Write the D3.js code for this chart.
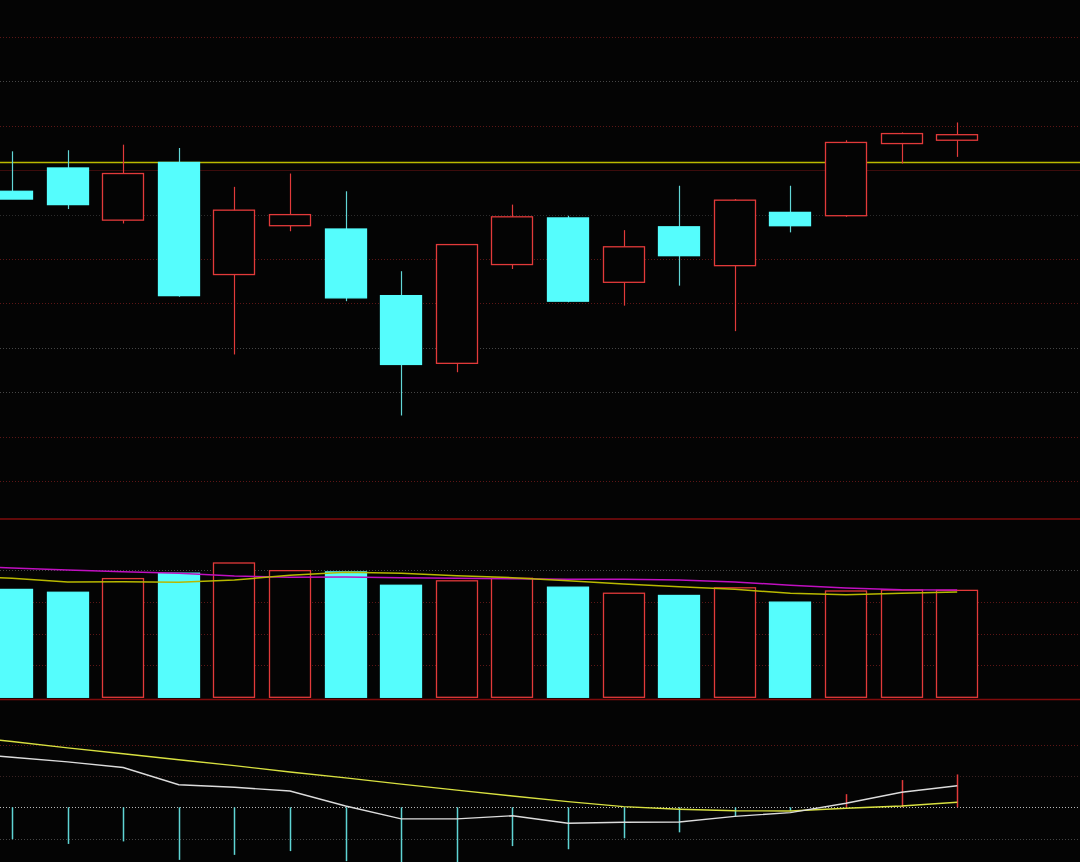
<!DOCTYPE html>
<html>
<head>
<meta charset="utf-8">
<script src="https://cdn.jsdelivr.net/npm/d3@7/dist/d3.min.js"></script>
<style>
html,body{margin:0;padding:0;background:#040404;overflow:hidden;}
svg{display:block;}
</style>
</head>
<body>
<svg id="chart" width="1080" height="862"></svg>
<script>
// ---------- data ----------
const days = d3.range(18);                       // visible trading sessions
const open  = [10.61,10.82,10.35,10.87,9.86,10.30,10.27,9.67,9.06,9.95,10.37,9.79,10.29,9.94,10.42,10.39,11.04,11.07];
const close = [10.54,10.49,10.77,9.67,10.44,10.40,9.65,9.05,10.13,10.38,9.62,10.11,10.03,10.53,10.30,11.05,11.13,11.12];
const high  = [10.97,10.98,11.03,11.00,10.65,10.77,10.61,9.89,10.13,10.49,10.39,10.26,10.66,10.54,10.66,11.07,11.14,11.23];
const low   = [10.54,10.45,10.32,9.66,9.14,10.25,9.62,8.59,8.98,9.91,9.61,9.58,9.76,9.35,10.24,10.38,10.86,10.92];
const refPrice = 10.87;
const priceTicks = [12.0,11.6,11.2,10.8,10.4,10.0,9.6,9.2,8.8,8.4,8.0];
const priceTickTone = ["r","g","r","s","d","r","r","g","g","r","r"];

const volume = [33900,33000,37300,39000,42200,39800,39400,35200,36600,37400,34600,32700,32000,34400,29900,33400,33700,33600];
// moving averages start one session before the first visible candle (index -1)
const volMA5  = [38110,37390,36230,36320,36130,36860,38330,39280,38960,38210,37580,36640,35600,34750,33930,32680,32240,32680,33090];
const volMA10 = [41250,40630,40000,39460,38960,38110,37700,37800,37580,37390,37260,37080,37080,36860,36230,35190,34340,33810,33710];
const volTicks = [40000,30000,20000,10000];
const volTickTone = ["g","r","r","r"];

const dif  = [0.175,0.160,0.145,0.127,0.072,0.064,0.052,0.004,-0.037,-0.037,-0.027,-0.051,-0.048,-0.047,-0.029,-0.017,0.013,0.048,0.069];
const dea  = [0.229,0.210,0.190,0.171,0.152,0.133,0.113,0.094,0.074,0.055,0.036,0.018,0.002,-0.006,-0.011,-0.012,-0.003,0.004,0.016];
const hist = [-0.102,-0.117,-0.109,-0.168,-0.152,-0.140,-0.172,-0.223,-0.184,-0.124,-0.134,-0.099,-0.080,-0.028,-0.012,0.042,0.087,0.105];
const macdTicks = [0.2,0.1,0,-0.1];
const macdTickTone = ["r","d2","w","g"];

// ---------- styles ----------
const C = {
  bg:"#040404", up:"#e23a3a", down:"#55fdfd", downWick:"#62d6d6",
  sep:"#800c0c", ref:"#b9b900", ma5:"#b8b800", ma10:"#c010c0",
  dif:"#dcdcdc", dea:"#d8e040", histDown:"#5fd4d4", histUp:"#e23a3a"
};
const tone = {
  r:{c:"#5c1616",dash:"1,2"},
  g:{c:"#464646",dash:"1,2"},
  d:{c:"#2c2c2c",dash:"1,2"},
  d2:{c:"#3a2222",dash:"1,2"},
  s:{c:"#3c0c0c",dash:null},
  w:{c:"#b8b8b8",dash:"1,2"}
};

const svg = d3.select("#chart");
const W = 1080, H = 862;
svg.append("rect").attr("width",W).attr("height",H).attr("fill",C.bg);

// ---------- scales ----------
const x = d3.scaleLinear().domain([0,17]).range([12,957.2]);
const bodyW = 42;
const yP = d3.scaleLinear().domain([8,12]).range([481,37]);
const yV = d3.scaleLinear().domain([0,40000]).range([697.3,570]);
const yM = d3.scaleLinear().domain([-0.1,0.2]).range([838.6,744.7]);

function grid(ticks, tones, scale){
  svg.append("g").selectAll("line").data(ticks).join("line")
    .attr("x1",0).attr("x2",W)
    .attr("y1",d=>Math.round(scale(d))+0.5).attr("y2",d=>Math.round(scale(d))+0.5)
    .attr("stroke",(d,i)=>tone[tones[i]].c)
    .attr("stroke-width",1)
    .attr("stroke-dasharray",(d,i)=>tone[tones[i]].dash);
}
grid(priceTicks, priceTickTone, yP);
grid(volTicks, volTickTone, yV);
grid(macdTicks, macdTickTone, yM);

// panel separators
svg.append("g").selectAll("line").data([519,699.5]).join("line")
  .attr("x1",0).attr("x2",W).attr("y1",d=>d).attr("y2",d=>d)
  .attr("stroke",C.sep).attr("stroke-width",1.5);

// reference line
svg.append("line").attr("x1",0).attr("x2",W)
  .attr("y1",yP(refPrice)).attr("y2",yP(refPrice))
  .attr("stroke",C.ref).attr("stroke-width",1.5);

// ---------- candles ----------
const candles = days.map(i=>({i,o:open[i],c:close[i],h:high[i],l:low[i],up:close[i]>=open[i]}));
const cg = svg.append("g");
cg.selectAll("line.wick").data(candles).join("line")
  .attr("class","wick")
  .attr("x1",d=>Math.round(x(d.i))+0.5).attr("x2",d=>Math.round(x(d.i))+0.5)
  .attr("y1",d=>yP(d.h)).attr("y2",d=>yP(d.l))
  .attr("stroke",d=>d.up?C.up:C.downWick).attr("stroke-width",1.2);
cg.selectAll("rect.body").data(candles).join("rect")
  .attr("class","body")
  .attr("x",d=>Math.round(x(d.i)-bodyW/2)+0.5)
  .attr("y",d=>yP(Math.max(d.o,d.c)))
  .attr("width",bodyW-1)
  .attr("height",d=>Math.max(1,yP(Math.min(d.o,d.c))-yP(Math.max(d.o,d.c))))
  .attr("fill",d=>d.up?C.bg:C.down)
  .attr("stroke",d=>d.up?C.up:C.down)
  .attr("stroke-width",1.3);

// ---------- volume ----------
const vg = svg.append("g");
vg.selectAll("rect").data(days).join("rect")
  .attr("x",i=>Math.round(x(i)-bodyW/2)+0.5)
  .attr("y",i=>yV(volume[i]))
  .attr("width",bodyW-1)
  .attr("height",i=>yV(0)-yV(volume[i]))
  .attr("fill",i=>candles[i].up?C.bg:C.down)
  .attr("stroke",i=>candles[i].up?C.up:C.down)
  .attr("stroke-width",1.3);

const maIdx = d3.range(-1,18);
const line = (scale, arr) => d3.line().x((d,k)=>x(maIdx[k])).y(d=>scale(d))(arr);
svg.append("path").attr("d",line(yV,volMA10)).attr("fill","none").attr("stroke",C.ma10).attr("stroke-width",1.5);
svg.append("path").attr("d",line(yV,volMA5)).attr("fill","none").attr("stroke",C.ma5).attr("stroke-width",1.5);

// ---------- MACD ----------
svg.append("g").selectAll("line").data(days).join("line")
  .attr("x1",i=>Math.round(x(i))+0.5).attr("x2",i=>Math.round(x(i))+0.5)
  .attr("y1",yM(0)).attr("y2",i=>yM(hist[i]))
  .attr("stroke",i=>hist[i]>=0?C.histUp:C.histDown).attr("stroke-width",1.5);
svg.append("path").attr("d",line(yM,dea)).attr("fill","none").attr("stroke",C.dea).attr("stroke-width",1.4);
svg.append("path").attr("d",line(yM,dif)).attr("fill","none").attr("stroke",C.dif).attr("stroke-width",1.4);
</script>
</body>
</html>
